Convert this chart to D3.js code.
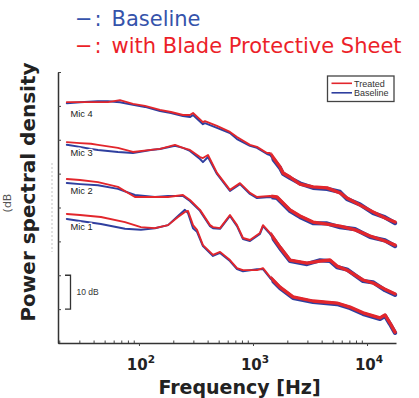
<!DOCTYPE html>
<html><head><meta charset="utf-8">
<script src="https://cdn.jsdelivr.net/npm/d3@7"></script>
<style>body{margin:0;background:#fff}svg{display:block}</style>
</head><body><svg id="c" width="419" height="398"></svg>
<script>
// ---- data (frequency in Hz, PSD in dB, curves offset per microphone) ----
const mic4Freq = [23.3, 30.4, 43.7, 53.5, 68.1, 88.6, 113, 153, 191, 243, 280, 298, 364, 379, 483, 628, 724, 941, 1084, 1327, 1409, 1726, 1833, 2112, 2584, 3360, 4460, 5794, 6677, 8687, 11290, 14380, 17610];
const mic4Treated = [71.1, 71.1, 71.1, 71.1, 71.7, 70.6, 70.0, 68.8, 68.2, 67.3, 67.3, 67.9, 65.2, 65.5, 64.1, 62.3, 60.8, 58.5, 57.9, 56.1, 56.1, 52.0, 50.2, 49.0, 46.9, 46.1, 45.8, 44.3, 42.8, 40.7, 38.7, 36.9, 35.7];
const mic4Baseline = [70.8, 71.1, 71.4, 71.4, 71.1, 70.3, 69.7, 68.5, 67.9, 67.0, 66.7, 67.3, 64.6, 64.9, 63.5, 62.0, 60.2, 58.2, 57.6, 55.8, 55.5, 51.7, 50.0, 48.7, 47.1, 45.8, 45.5, 44.6, 42.5, 40.9, 38.4, 37.1, 35.4];

const mic3Freq = [23.3, 30.4, 37.9, 43.7, 65.4, 88.6, 127, 153, 207, 243, 280, 343, 364, 403, 483, 628, 769, 941, 1084, 1409, 1624, 2112, 2584, 3360, 4460, 5794, 7848, 10630, 14380, 17610];
const mic3Treated = [59.3, 59.0, 58.8, 58.5, 57.6, 56.4, 57.0, 57.3, 58.5, 57.6, 57.0, 54.9, 54.6, 55.5, 50.2, 45.2, 47.2, 44.3, 43.1, 43.4, 43.1, 39.3, 37.5, 35.7, 35.1, 34.5, 33.4, 31.6, 30.1, 28.9];
const mic3Baseline = [58.5, 57.9, 57.3, 57.0, 56.4, 56.1, 57.0, 57.3, 58.2, 57.6, 56.7, 54.3, 53.4, 54.9, 49.9, 44.9, 46.9, 44.0, 42.8, 43.1, 42.8, 39.0, 37.2, 35.4, 35.3, 34.2, 33.6, 31.3, 30.3, 28.6];

const mic2Freq = [23.3, 30.4, 43.7, 65.4, 92.2, 138, 180, 243, 280, 343, 420, 446, 514, 628, 724, 817, 941, 1151, 1224, 1409, 1726, 2112, 2976, 3870, 4735, 5456, 6677, 9232, 11290, 14380, 17610];
const mic2Treated = [48.4, 48.1, 47.5, 46.1, 43.1, 43.1, 43.1, 43.7, 42.2, 39.3, 34.8, 34.2, 33.9, 37.8, 34.8, 31.0, 30.4, 32.5, 34.8, 32.5, 28.3, 24.5, 23.6, 24.2, 24.5, 22.7, 21.5, 18.6, 17.7, 15.9, 14.5];
const mic2Baseline = [47.2, 46.9, 46.6, 45.5, 43.7, 43.1, 43.4, 43.4, 41.9, 39.0, 34.5, 33.9, 33.7, 37.5, 34.5, 30.7, 30.1, 32.2, 34.5, 32.2, 28.0, 24.2, 23.3, 24.4, 24.2, 22.4, 21.7, 18.3, 17.9, 15.6, 14.2];

const mic1Freq = [23.3, 30.4, 46.4, 75.4, 104, 138, 180, 220, 253, 269, 298, 323, 364, 446, 514, 628, 724, 817, 1084, 1224, 1409, 1726, 2244, 3360, 5456, 7096, 9232, 13000, 14380, 15910, 17610];
const mic1Treated = [38.1, 37.8, 37.2, 35.7, 34.2, 33.9, 34.8, 37.2, 38.7, 39.0, 34.8, 33.4, 28.9, 26.0, 26.9, 24.5, 22.1, 21.5, 21.5, 22.1, 19.5, 16.5, 13.6, 12.4, 11.8, 10.6, 8.9, 7.4, 8.3, 5.9, 3.2];
const mic1Baseline = [36.6, 36.0, 35.1, 33.7, 33.4, 33.9, 34.8, 37.5, 39.3, 38.4, 33.9, 32.8, 28.6, 25.7, 26.6, 24.2, 21.8, 21.2, 21.8, 21.8, 19.2, 16.2, 13.3, 12.1, 11.5, 10.3, 8.6, 7.1, 8.0, 5.6, 3.0];

const micNames = ["Mic 4", "Mic 3", "Mic 2", "Mic 1"];
const micLabelDb = [66.8, 55.3, 43.9, 33.5];
const yTicks = [0, 10, 20, 30, 40, 50, 60, 70, 80];
const xMajor = [100, 1000, 10000];
const xMajorExp = ["2", "3", "4"];
const scaleBarDb = [10, 20];
const legendTop = ["Baseline", "with Blade Protective Sheet"];
const legendInner = ["Treated", "Baseline"];

// ---- layout ----
const RED = "#e2262c", BLUE = "#2f3f9f";
const svg = d3.select("#c");
svg.append("rect").attr("width", 419).attr("height", 398).attr("fill", "#fff");

const x = d3.scaleLog().domain([19.5, 17950]).range([58, 396]);
const y = d3.scaleLinear().domain([0, 80]).range([343, 72]);

const mics = [
  {f: mic4Freq, t: mic4Treated, b: mic4Baseline},
  {f: mic3Freq, t: mic3Treated, b: mic3Baseline},
  {f: mic2Freq, t: mic2Treated, b: mic2Baseline},
  {f: mic1Freq, t: mic1Treated, b: mic1Baseline}
];

// top legend
const lt = svg.append("g").attr("font-family", "DejaVu Sans").attr("font-size", 21);
[[26, legendTop[0], "#3553ab"], [53, legendTop[1], "#ec1f29"]].forEach(([by, txt, col]) => {
  lt.append("text").attr("x", 75).attr("y", by).attr("fill", col).text("\u2212");
  lt.append("text").attr("x", 94.5).attr("y", by).attr("fill", col).text(":");
  lt.append("text").attr("x", 111.5).attr("y", by).attr("fill", col).text(txt);
});

// faint remnants left of axis (original unit label)
svg.append("line").attr("x1", 52).attr("x2", 52).attr("y1", 163).attr("y2", 252)
  .attr("stroke", "#999").attr("stroke-width", 0.8).attr("stroke-dasharray", "2,2").attr("opacity", 0.7);
svg.append("text").attr("transform", "translate(11,203) rotate(-90)")
  .attr("font-family", "DejaVu Sans").attr("font-size", 11).attr("fill", "#555")
  .attr("text-anchor", "middle").text("(dB");

// axes
const gy = svg.append("g").attr("transform", "translate(58,0)")
  .call(d3.axisLeft(y).tickValues(yTicks).tickSizeInner(-3).tickSizeOuter(0).tickFormat(""));
const minor = [];
[10, 100, 1000, 10000].forEach(d => { for (let k = 2; k <= 9; k++) { const v = d * k; if (v > 19.5 && v < 17950) minor.push(v); } });
const gxm = svg.append("g").attr("transform", "translate(0,343)")
  .call(d3.axisBottom(x).tickValues(minor).tickSizeInner(-2.5).tickSizeOuter(0).tickFormat(""));
const gx = svg.append("g").attr("transform", "translate(0,343)")
  .call(d3.axisBottom(x).tickValues(xMajor).tickSizeInner(3).tickSizeOuter(0).tickFormat(""));
[gy, gxm, gx].forEach(g => {
  g.select(".domain").attr("stroke", "#333").attr("stroke-width", 1.5);
  g.selectAll(".tick line").attr("stroke", "#444").attr("stroke-width", 1);
});
gxm.select(".domain").attr("stroke", "none");

// major tick labels
xMajor.forEach((v, i) => {
  const t = svg.append("text").attr("x", x(v) + 2).attr("y", 370)
    .attr("font-family", "DejaVu Sans").attr("font-weight", "bold").attr("font-size", 15)
    .attr("fill", "#222").attr("text-anchor", "middle");
  t.append("tspan").text("10");
  t.append("tspan").attr("dy", -7).attr("font-size", 10.5).text(xMajorExp[i]);
});

// axis titles
svg.append("text").attr("x", 239.5).attr("y", 394)
  .attr("font-family", "DejaVu Sans").attr("font-weight", "bold").attr("font-size", 19)
  .attr("fill", "#222").attr("text-anchor", "middle").text("Frequency [Hz]");
svg.append("text").attr("transform", "translate(35,192) rotate(-90)")
  .attr("font-family", "DejaVu Sans").attr("font-weight", "bold").attr("font-size", 20)
  .attr("fill", "#222").attr("text-anchor", "middle").text("Power spectral density");

// clip for thick high-frequency band
svg.append("clipPath").attr("id", "hf").append("rect")
  .attr("x", x(1450)).attr("y", 60).attr("width", 396 - x(1450) + 4).attr("height", 300);

const line = d3.line().x(d => x(d[0])).y(d => y(d[1]));
const gl = svg.append("g").attr("fill", "none").attr("stroke-linejoin", "round").attr("stroke-linecap", "round");
mics.forEach(m => {
  const tb = m.f.map((f, i) => [f, m.b[i]]);
  const tt = m.f.map((f, i) => [f, m.t[i]]);
  gl.append("path").attr("d", line(tb)).attr("stroke", BLUE).attr("stroke-width", 2);
  gl.append("path").attr("d", line(tb)).attr("stroke", BLUE).attr("stroke-width", 4.2).attr("clip-path", "url(#hf)");
  gl.append("path").attr("d", line(tt)).attr("stroke", RED).attr("stroke-width", 1.9);
  gl.append("path").attr("d", line(tt)).attr("stroke", RED).attr("stroke-width", 3.3).attr("clip-path", "url(#hf)");
});

// mic labels
micNames.forEach((n, i) => {
  svg.append("text").attr("x", 70.5).attr("y", y(micLabelDb[i]))
    .attr("font-family", "Liberation Sans").attr("font-size", 9.3).attr("fill", "#1a1a1a")
    .attr("stroke", "#fff").attr("stroke-width", 2.5).attr("paint-order", "stroke").text(n);
});

// 10 dB scale bar
const sb = svg.append("g").attr("stroke", "#333").attr("stroke-width", 1.3).attr("fill", "none");
sb.append("path").attr("d", `M65,${y(scaleBarDb[1])}H70.5V${y(scaleBarDb[0])}H65`);
svg.append("text").attr("x", 76.5).attr("y", (y(scaleBarDb[0]) + y(scaleBarDb[1])) / 2 + 3)
  .attr("font-family", "Liberation Sans").attr("font-size", 8.5).attr("fill", "#333").text("10 dB");

// inner legend
const lg = svg.append("g");
lg.append("rect").attr("x", 327.5).attr("y", 76).attr("width", 66.5).attr("height", 25.5)
  .attr("fill", "#fff").attr("stroke", "#444").attr("stroke-width", 1.3);
[[RED, 83.3], [BLUE, 92.8]].forEach(([c, ly], i) => {
  lg.append("line").attr("x1", 331.5).attr("x2", 352).attr("y1", ly).attr("y2", ly)
    .attr("stroke", c).attr("stroke-width", 1.6);
  lg.append("text").attr("x", 354).attr("y", ly + 3.3)
    .attr("font-family", "Liberation Sans").attr("font-size", 9).attr("fill", "#333").text(legendInner[i]);
});
</script></body></html>
